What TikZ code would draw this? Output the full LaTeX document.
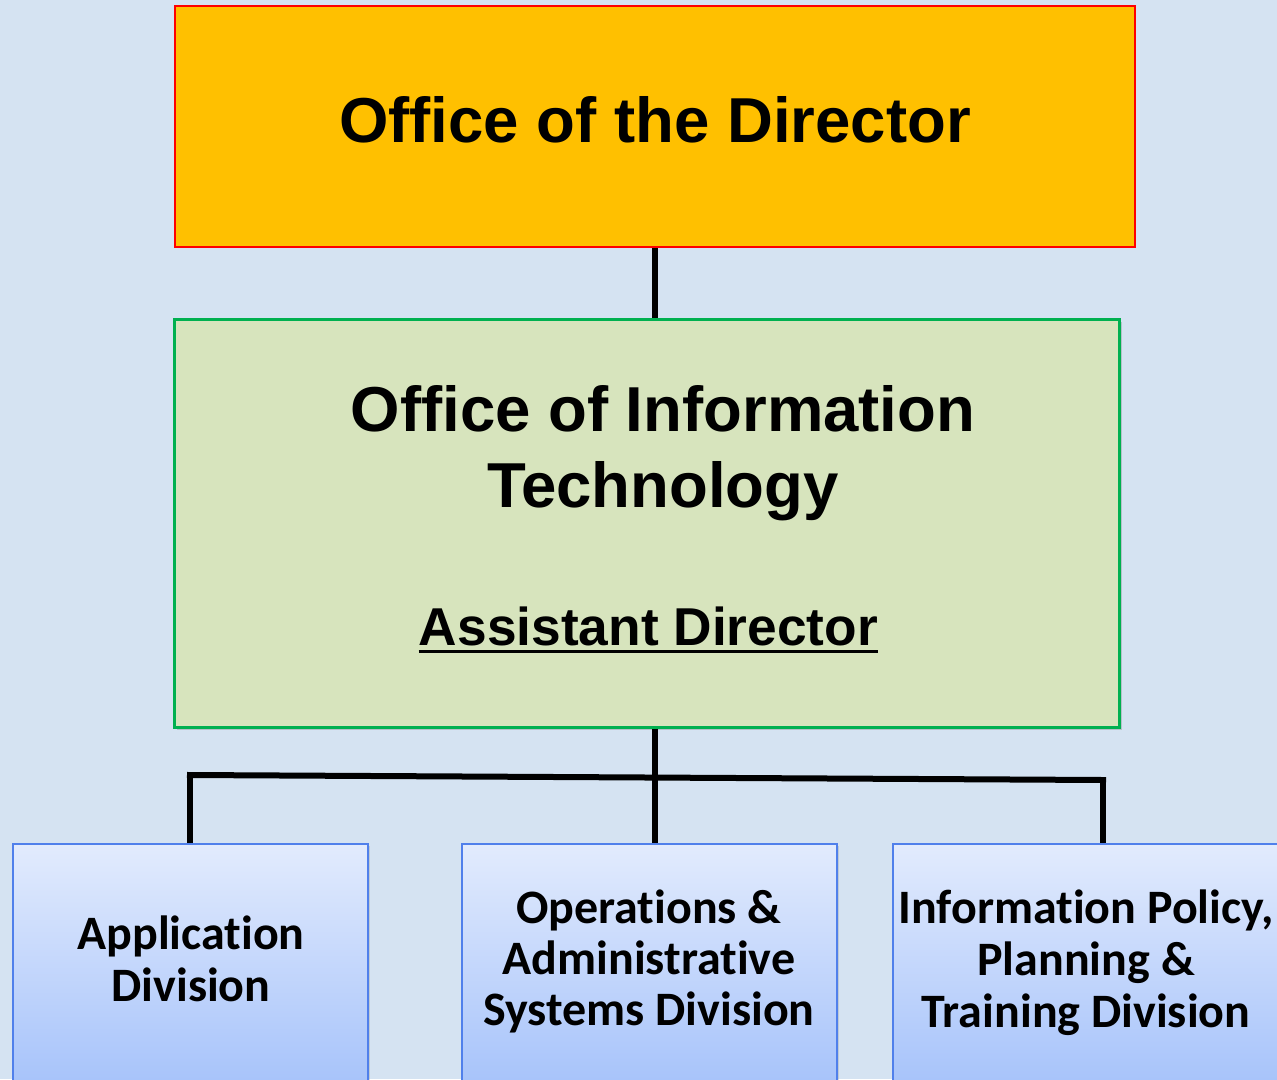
\documentclass[tikz,border=0pt]{standalone}
\usepackage{fontspec}
\setmainfont{Liberation Sans}
\newfontfamily\calib[Ligatures=CommonOff]{Carlito}
\usetikzlibrary{shadows}
\definecolor{bgblue}{RGB}{213,227,242}
\definecolor{dirfill}{RGB}{255,192,0}
\definecolor{dirline}{RGB}{255,0,0}
\definecolor{oitfill}{RGB}{215,228,189}
\definecolor{oitline}{RGB}{0,176,80}
\definecolor{divtop}{RGB}{226,235,253}
\definecolor{divbot}{RGB}{162,192,250}
\definecolor{divline}{RGB}{80,128,235}
\tikzset{
  dirbox/.style={draw=dirline, fill=dirfill, line width=2pt, inner sep=0pt},
  oitbox/.style={draw=oitline, fill=oitfill, line width=3pt, inner sep=0pt,
    drop shadow={shadow xshift=3pt, shadow yshift=-3pt, opacity=0.35}},
  divbox/.style={draw=divline, top color=divtop, bottom color=divbot, line width=2pt, inner sep=0pt,
    drop shadow={shadow xshift=2pt, shadow yshift=-2pt, opacity=0.25}},
  conn/.style={draw=black, line width=6pt},
  bigtxt/.style={anchor=base, inner sep=0pt, font=\bfseries\fontsize{63.5}{76}\selectfont},
  subtxt/.style={anchor=base, inner sep=0pt, font=\bfseries\fontsize{53.3}{64}\selectfont},
  divtxt/.style={anchor=base, inner sep=0pt, font=\calib\bfseries\fontsize{48}{52}\selectfont},
}
\begin{document}
\begin{tikzpicture}[x=1pt,y=-1pt]
\useasboundingbox (0,0) rectangle (1277,1079);
\fill[bgblue] (0,0) rectangle (1277,1079);

% boxes
\node[dirbox, minimum width=960pt, minimum height=241pt] (dir) at (655,126.5) {};
\node[oitbox, minimum width=945pt, minimum height=408pt] (oit) at (646.5,523) {};
\node[divbox, minimum width=355pt, minimum height=260pt] (box1) at (190.5,974) {};
\node[divbox, minimum width=375pt, minimum height=260pt] (box2) at (649.5,974) {};
\node[divbox, minimum width=386pt, minimum height=260pt] (box3) at (1086,974) {};

% texts
\node[bigtxt] (dirt) at (655,142) {Office of the Director};
\node[bigtxt] (oita) at (663,431) {Office of Information};
\node[bigtxt] (oitb) at (663,507) {Technology};
\node[subtxt] (ad) at (648.5,645) {Assistant Director};
\draw[line width=3pt] ([yshift=-6pt]ad.base west) -- ([yshift=-6pt]ad.base east);

\node[divtxt] (b1a) at (191,949) {Application};
\node[divtxt] (b1b) at (191,1001) {Division};
\node[divtxt] (b2a) at (649,923) {Operations \&};
\node[divtxt] (b2b) at (649,974) {Administrative};
\node[divtxt] (b2c) at (649,1025) {Systems Division};
\node[divtxt] (b3a) at (1086,923) {Information Policy,};
\node[divtxt] (b3b) at (1086,975) {Planning \&};
\node[divtxt] (b3c) at (1086,1027) {Training Division};

% connectors
\coordinate (jx) at (655,0);
\coordinate (barL) at (190,775);
\coordinate (barR) at (1103,780);
\draw[conn] (dir.south -| jx) -- (oit.north -| jx);
\draw[conn] (oit.south -| jx) -- (box2.north -| jx);
\draw[conn, line cap=rect] (barL) -- (barR);
\draw[conn] (barL) -- (box1.north -| barL);
\draw[conn] (barR) -- (box3.north -| barR);
\end{tikzpicture}
\end{document}
